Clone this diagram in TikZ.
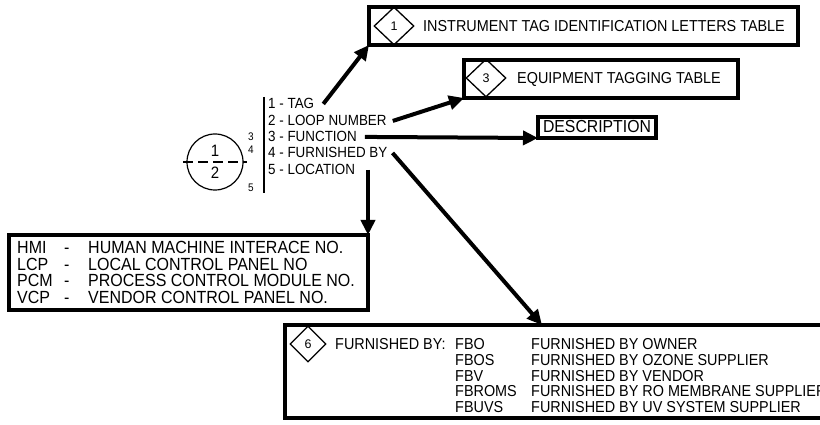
\documentclass[tikz,border=0pt]{standalone}
\usepackage{fontspec}
\setmainfont{Liberation Sans}
\usetikzlibrary{arrows.meta,shapes.geometric,calc}
\newsavebox\txtbox
\begin{document}
\begin{tikzpicture}[x=1pt,y=-1pt,
  st/.style={execute at begin node={\begin{lrbox}{\txtbox}},
             execute at end node={\end{lrbox}\scalebox{1}[1.1]{\usebox\txtbox}}},
  box/.style={draw,line width=4pt,rectangle,inner sep=0pt,outer sep=0pt,anchor=north west},
  conn/.style={line width=4pt,-{Triangle[length=15pt,width=14pt]}},
  dia/.style={draw,diamond,line width=1.3pt,minimum width=40pt,minimum height=38pt,inner sep=0pt,font=\fontsize{12.5}{12}\selectfont},
  item/.style={st,anchor=base west,inner sep=0pt,font=\fontsize{13.4}{16}\selectfont},
  tbl/.style={st,anchor=base west,inner sep=0pt,font=\fontsize{14.4}{16}\selectfont},
  big/.style={st,anchor=base west,inner sep=0pt,font=\fontsize{16}{18}\selectfont},
  small/.style={st,anchor=base,inner sep=0pt,font=\fontsize{10}{10}\selectfont},
  thin/.style={line width=1.2pt}
]
\clip (0,0) rectangle (820,425);
\fill[white] (0,0) rectangle (820,425);

% tag bubble
\node[draw,circle,thin,minimum size=56pt,inner sep=0pt] (tagc) at (215,162) {};
\draw[thin,dash pattern=on 10pt off 5pt] ([xshift=-3pt]tagc.west) -- ([xshift=3pt]tagc.east);
\node[st,anchor=base,inner sep=0pt,font=\fontsize{15}{15}\selectfont] (n1) at (215,157) {1};
\node[st,anchor=base,inner sep=0pt,font=\fontsize{15}{15}\selectfont] (n2) at (215,179) {2};

% small numbers and vertical rule
\node[small] (s3) at (251,141) {3};
\node[small] (s4) at (251,154) {4};
\node[small] (s5) at (251,192) {5};
\coordinate (vtop) at (264,97);
\coordinate (vbot) at (264,193);
\draw[thin] (vtop) -- (vbot);

% list
\node[item] (l1) at (268,109) {1 - TAG};
\node[item] (l2) at (268,126) {2 - LOOP NUMBER};
\node[item] (l3) at (268,142) {3 - FUNCTION};
\node[item] (l4) at (268,158) {4 - FURNISHED BY};
\node[item] (l5) at (268,175) {5 - LOCATION};

% box 1
\node[box,minimum width=429pt,minimum height=38pt] (box1) at (369,7) {};
\node[dia] (d1) at (394,26) {1};
\node[tbl] (t1) at (423,32) {INSTRUMENT TAG IDENTIFICATION LETTERS TABLE};

% box 3
\node[box,minimum width=274pt,minimum height=38pt] (box3) at (464,60) {};
\node[dia] (d3) at (486,78) {3};
\node[tbl] (t3) at (517,84) {EQUIPMENT TAGGING TABLE};

% description
\node[box,minimum width=118pt,minimum height=21pt] (desc) at (538,117) {};
\node[st,anchor=base,inner sep=0pt,font=\fontsize{15.8}{16}\selectfont] (tdesc) at (597,133) {DESCRIPTION};

% HMI box
\node[box,minimum width=359pt,minimum height=75pt] (hmi) at (9,235) {};
\foreach \i/\a/\b/\y in {1/HMI/HUMAN MACHINE INTERACE NO./253,
                         2/LCP/LOCAL CONTROL PANEL NO/270,
                         3/PCM/PROCESS CONTROL MODULE NO./286,
                         4/VCP/VENDOR CONTROL PANEL NO./303}{
  \node[big] (ha\i) at (17,\y) {\a};
  \node[big] (hd\i) at (64,\y) {-};
  \node[big] (hb\i) at (88,\y) {\b};
}

% furnished-by box
\node[box,minimum width=555pt,minimum height=93pt] (fb) at (285,325) {};
\node[dia,minimum width=36pt,minimum height=36pt] (d6) at (308,344) {6};
\node[tbl] (fbl) at (335,349) {FURNISHED BY:};
\foreach \i/\a/\b/\y in {1/FBO/FURNISHED BY OWNER/349,
                         2/FBOS/FURNISHED BY OZONE SUPPLIER/365,
                         3/FBV/FURNISHED BY VENDOR/381,
                         4/FBROMS/FURNISHED BY RO MEMBRANE SUPPLIER/396,
                         5/FBUVS/FURNISHED BY UV SYSTEM SUPPLIER/412}{
  \node[tbl] (fa\i) at (455,\y) {\a};
  \node[tbl] (fd\i) at (531,\y) {\b};
}

% connectors
\draw[conn] ([xshift=9pt]l1.east) -- (box1.south west);
\draw[conn] ([xshift=6pt]l2.east) -- (box3.south west);
\draw[conn] ([xshift=8pt]l3.east) -- (desc.south west);
\draw[conn] ([xshift=5pt]l4.east) -- ($(fb.north west)+(257,0)$);
\draw[conn] (hmi.north east |- l5.east) -- (hmi.north east);
\end{tikzpicture}
\end{document}
